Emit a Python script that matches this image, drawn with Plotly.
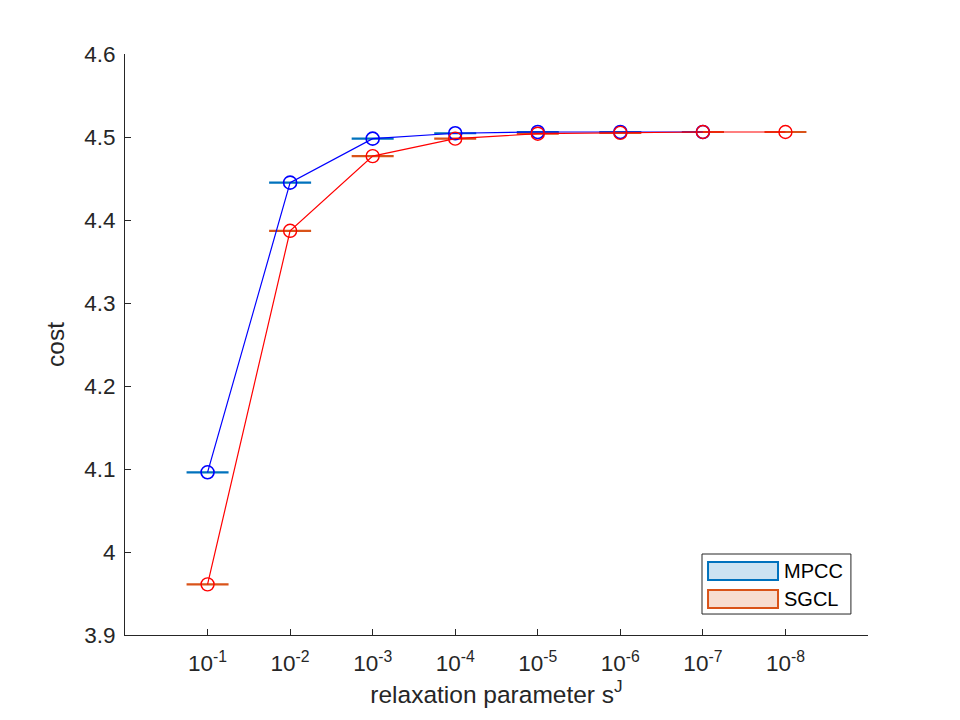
import plotly.graph_objects as go

# relaxation parameter s^J (one box per value)
tick_labels = ["10<sup>-1</sup>", "10<sup>-2</sup>", "10<sup>-3</sup>", "10<sup>-4</sup>",
               "10<sup>-5</sup>", "10<sup>-6</sup>", "10<sup>-7</sup>", "10<sup>-8</sup>"]
positions = [1, 2, 3, 4, 5, 6, 7, 8]

# cost per relaxation step
mpcc_cost = [4.096, 4.445, 4.498, 4.5045, 4.506, 4.506, 4.506]
sgcl_cost = [3.961, 4.387, 4.477, 4.498, 4.504, 4.505, 4.506, 4.506]

y_ticks = [3.9, 4.0, 4.1, 4.2, 4.3, 4.4, 4.5, 4.6]
y_tick_text = ["3.9", "4", "4.1", "4.2", "4.3", "4.4", "4.5", "4.6"]

BLUE_BOX = "#0072BD"
RED_BOX = "#D95319"
BLUE = "#0000FF"
RED = "#FF0000"
AX = "#262626"
FONT = "Liberation Sans, Arial, sans-serif"

fig = go.Figure()

# boxplot medians (boxes collapsed to a line)
fig.add_trace(go.Scatter(
    x=positions[:len(mpcc_cost)], y=mpcc_cost, mode="markers",
    marker=dict(symbol="line-ew", size=30, line=dict(color=BLUE_BOX, width=2.2)),
    showlegend=False, hoverinfo="skip"))
fig.add_trace(go.Scatter(
    x=positions[:len(sgcl_cost)], y=sgcl_cost, mode="markers",
    marker=dict(symbol="line-ew", size=30, line=dict(color=RED_BOX, width=2.2)),
    showlegend=False, hoverinfo="skip"))

# mean lines with circles
fig.add_trace(go.Scatter(
    x=positions[:len(mpcc_cost)], y=mpcc_cost, mode="lines+markers",
    line=dict(color=BLUE, width=1.2),
    marker=dict(symbol="circle-open", size=13, color=BLUE, line=dict(width=1.6)),
    showlegend=False))
fig.add_trace(go.Scatter(
    x=positions[:len(sgcl_cost)], y=sgcl_cost, mode="lines+markers",
    line=dict(color=RED, width=1.2),
    marker=dict(symbol="circle-open", size=13, color=RED, line=dict(width=1.4)),
    showlegend=False))

# legend drawn by hand (MATLAB style patches)
fig.add_shape(type="rect", xref="paper", yref="paper", x0=0.7766, x1=0.977, y0=0.0361, y1=0.1394,
              line=dict(color=AX, width=1), fillcolor="white")
fig.add_shape(type="rect", xref="paper", yref="paper", x0=0.7847, x1=0.8789, y0=0.0947, y1=0.1256,
              line=dict(color=BLUE_BOX, width=2), fillcolor="#CCE3F2")
fig.add_shape(type="rect", xref="paper", yref="paper", x0=0.7847, x1=0.8789, y0=0.0465, y1=0.0775,
              line=dict(color=RED_BOX, width=2), fillcolor="#F7DDD1")
fig.add_annotation(xref="paper", yref="paper", x=0.884, y=0.110, text="MPCC", showarrow=False,
                   xanchor="left", yanchor="middle", font=dict(size=20, color="black", family=FONT))
fig.add_annotation(xref="paper", yref="paper", x=0.884, y=0.062, text="SGCL", showarrow=False,
                   xanchor="left", yanchor="middle", font=dict(size=20, color="black", family=FONT))

fig.update_layout(
    width=960, height=720,
    margin=dict(l=117, r=100, t=46, b=93),
    paper_bgcolor="white", plot_bgcolor="white",
    font=dict(family=FONT, color=AX),
    xaxis=dict(range=[0, 9], tickvals=positions, ticktext=tick_labels,
               showgrid=False, zeroline=False, showline=True, linecolor=AX, linewidth=1,
               ticks="inside", ticklen=6, tickcolor=AX, tickfont=dict(size=22.5),
               ticklabelstandoff=8,
               title=dict(text="relaxation parameter s<sup>J</sup>", font=dict(size=24.5), standoff=10)),
    yaxis=dict(range=[3.9, 4.6], tickvals=y_ticks, ticktext=y_tick_text,
               showgrid=False, zeroline=False, showline=True, linecolor=AX, linewidth=1,
               ticks="inside", ticklen=6, tickcolor=AX, tickfont=dict(size=22.5),
               ticklabelstandoff=4,
               title=dict(text="cost", font=dict(size=24.5), standoff=12)),
)

fig.write_html("out.html")
